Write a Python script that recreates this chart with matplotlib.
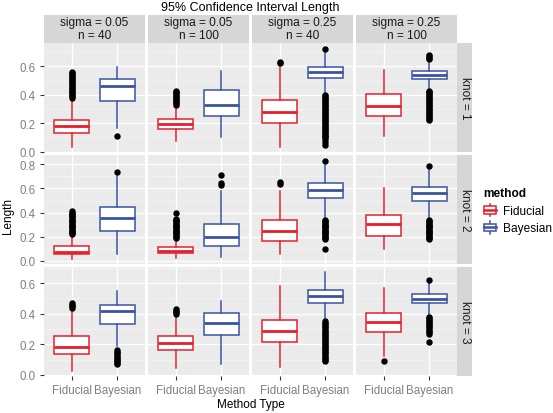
import matplotlib.pyplot as plt
from matplotlib.patches import Rectangle, Patch
from matplotlib.lines import Line2D
from matplotlib.legend_handler import HandlerBase

plt.rcParams['font.family'] = ['Liberation Sans', 'DejaVu Sans']

methods = ['Fiducial', 'Bayesian']
sigmas = ['0.05', '0.05', '0.25', '0.25']
ns = ['40', '100', '40', '100']
knots = [1, 2, 3]
colors = ['#E5202B', '#3A54A4']

# box statistics, indexed [knot][panel][method]
medians = [
    [[0.178, 0.462], [0.193, 0.328], [0.279, 0.558], [0.321, 0.541]],
    [[0.074, 0.353], [0.085, 0.201], [0.251, 0.590], [0.306, 0.565]],
    [[0.183, 0.415], [0.207, 0.341], [0.285, 0.517], [0.344, 0.498]],
]
q1s = [
    [[0.134, 0.358], [0.160, 0.253], [0.202, 0.518], [0.249, 0.509]],
    [[0.055, 0.248], [0.064, 0.121], [0.165, 0.521], [0.209, 0.499]],
    [[0.135, 0.333], [0.163, 0.261], [0.217, 0.472], [0.283, 0.468]],
]
q3s = [
    [[0.225, 0.513], [0.230, 0.431], [0.365, 0.598], [0.406, 0.569]],
    [[0.124, 0.444], [0.116, 0.306], [0.339, 0.645], [0.380, 0.612]],
    [[0.252, 0.457], [0.252, 0.402], [0.361, 0.554], [0.407, 0.528]],
]
whis_lo = [
    [[0.035, 0.170], [0.073, 0.101], [0.035, 0.410], [0.108, 0.436]],
    [[0.017, 0.058], [0.022, 0.030], [0.058, 0.347], [0.099, 0.347]],
    [[0.024, 0.191], [0.044, 0.072], [0.050, 0.361], [0.122, 0.385]],
]
whis_hi = [
    [[0.377, 0.598], [0.323, 0.567], [0.593, 0.700], [0.574, 0.640]],
    [[0.215, 0.706], [0.188, 0.582], [0.582, 0.794], [0.606, 0.761]],
    [[0.430, 0.548], [0.387, 0.485], [0.579, 0.670], [0.566, 0.600]],
]
outliers = [
    [
        [[0.38, 0.39, 0.40, 0.41, 0.42, 0.43, 0.44, 0.45, 0.46, 0.47, 0.48, 0.49, 0.50, 0.51, 0.52, 0.53, 0.54, 0.55, 0.56],
         [0.11]],
        [[0.33, 0.34, 0.35, 0.36, 0.37, 0.38, 0.39, 0.40, 0.41, 0.42, 0.43],
         []],
        [[0.62, 0.63],
         [0.72, 0.40, 0.39, 0.38, 0.37, 0.36, 0.35, 0.34, 0.33, 0.32, 0.31, 0.30, 0.29, 0.28, 0.27, 0.26, 0.25,
          0.24, 0.23, 0.22, 0.21, 0.20, 0.19, 0.18, 0.17, 0.16, 0.15, 0.14, 0.13, 0.12, 0.11, 0.10, 0.09, 0.07, 0.05]],
        [[],
         [0.65, 0.66, 0.67, 0.68, 0.43, 0.42, 0.41, 0.40, 0.39, 0.38, 0.37, 0.36, 0.35, 0.34, 0.33, 0.32, 0.31,
          0.30, 0.29, 0.28, 0.27, 0.26, 0.25, 0.24, 0.23, 0.22]],
    ],
    [
        [[0.22, 0.23, 0.24, 0.25, 0.26, 0.27, 0.28, 0.29, 0.30, 0.31, 0.32, 0.33, 0.34, 0.35, 0.36, 0.37, 0.38, 0.39, 0.40, 0.41],
         [0.74]],
        [[0.19, 0.20, 0.21, 0.22, 0.23, 0.24, 0.25, 0.26, 0.27, 0.28, 0.29, 0.30, 0.31, 0.32, 0.33, 0.34, 0.35, 0.40],
         [0.63, 0.645, 0.71]],
        [[0.64, 0.65],
         [0.83, 0.34, 0.33, 0.32, 0.31, 0.30, 0.29, 0.28, 0.27, 0.26, 0.25, 0.24, 0.23, 0.22, 0.21, 0.20, 0.19, 0.18, 0.10]],
        [[],
         [0.79, 0.34, 0.33, 0.32, 0.31, 0.30, 0.29, 0.28, 0.27, 0.26, 0.25, 0.24, 0.23, 0.22, 0.21, 0.20, 0.19, 0.18]],
    ],
    [
        [[0.44, 0.45, 0.46, 0.47],
         [0.16, 0.15, 0.14, 0.13, 0.12, 0.11, 0.10, 0.09, 0.08, 0.07]],
        [[0.40, 0.41, 0.42, 0.43],
         []],
        [[],
         [0.35, 0.34, 0.33, 0.32, 0.31, 0.30, 0.29, 0.28, 0.27, 0.26, 0.25, 0.24, 0.23, 0.22, 0.21, 0.20, 0.19,
          0.18, 0.17, 0.16, 0.15, 0.14, 0.13, 0.12, 0.11, 0.10, 0.093]],
        [[0.093],
         [0.62, 0.38, 0.37, 0.36, 0.35, 0.34, 0.33, 0.32, 0.31, 0.30, 0.29, 0.28, 0.27, 0.215]],
    ],
]

ylims = [(-0.002, 0.764), (-0.025, 0.877), (-0.007, 0.705)]
yticks = [[0, 0.2, 0.4, 0.6], [0, 0.2, 0.4, 0.6, 0.8], [0, 0.2, 0.4, 0.6]]
ytick_labels = [['0.0', '0.2', '0.4', '0.6'], ['0.0', '0.2', '0.4', '0.6', '0.8'], ['0.0', '0.2', '0.4', '0.6']]

panel_bg = '#EBEBEB'
strip_bg = '#D6D6D6'
grey_txt = '#7F7F7F'

W, H = 553, 414
left, top = 44, 44
pw, ph = 101, 109
gap = 3
strip_h = 28.3
strip_w = 15


def rect(x, y, w, h):
    return [x / W, 1 - (y + h) / H, w / W, h / H]


fig = plt.figure(figsize=(W / 100, H / 100), dpi=100)

for r in range(3):
    y = top + r * (ph + gap)
    for c in range(4):
        x = left + c * (pw + gap)
        ax = fig.add_axes(rect(x, y, pw, ph))
        ax.set_facecolor(panel_bg)
        for s in ax.spines.values():
            s.set_visible(False)
        ax.set_axisbelow(True)

        for m in range(2):
            st = [{'med': medians[r][c][m], 'q1': q1s[r][c][m], 'q3': q3s[r][c][m],
                   'whislo': whis_lo[r][c][m], 'whishi': whis_hi[r][c][m],
                   'fliers': outliers[r][c][m]}]
            col = colors[m]
            ax.bxp(st, positions=[m + 1], widths=0.75, showcaps=False, patch_artist=True,
                   boxprops=dict(facecolor='white', edgecolor=col, linewidth=1.1),
                   medianprops=dict(color=col, linewidth=2.0),
                   whiskerprops=dict(color=col, linewidth=1.1),
                   flierprops=dict(marker='o', markerfacecolor='black', markeredgecolor='black',
                                   markersize=3.6, linestyle='none'))

        ax.set_xlim(0.4, 2.6)
        ax.set_ylim(*ylims[r])
        ax.set_xticks([1, 2])
        ax.set_xticklabels(methods)
        ax.set_yticks(yticks[r])
        ax.set_yticklabels(ytick_labels[r])
        minors = [t + 0.1 for t in yticks[r] if t + 0.1 < ylims[r][1]]
        ax.set_yticks(minors, minor=True)
        ax.grid(which='major', color='white', linewidth=1.0)
        ax.grid(which='minor', axis='y', color='#F5F5F5', linewidth=0.5)
        ax.tick_params(which='minor', length=0)
        ax.tick_params(axis='both', which='major', length=3, width=0.8, color='#333333',
                       labelcolor=grey_txt, labelsize=8.3, pad=3)
        if c > 0:
            ax.tick_params(axis='y', which='major', length=0, labelleft=False)
        if r < 2:
            ax.tick_params(axis='x', which='major', length=0, labelbottom=False)

        if r == 0:
            sax = fig.add_axes(rect(x, top - strip_h, pw, strip_h))
            sax.set_facecolor(strip_bg)
            sax.set_xticks([])
            sax.set_yticks([])
            for s in sax.spines.values():
                s.set_visible(False)
            sax.text(0.5, 0.73, 'sigma = ' + sigmas[c], ha='center', va='center', fontsize=8.6,
                     color='#1A1A1A', transform=sax.transAxes)
            sax.text(0.5, 0.28, 'n = ' + ns[c], ha='center', va='center', fontsize=8.6,
                     color='#1A1A1A', transform=sax.transAxes)

    rax = fig.add_axes(rect(left + 4 * pw + 3 * gap, y, strip_w, ph))
    rax.set_facecolor(strip_bg)
    rax.set_xticks([])
    rax.set_yticks([])
    for s in rax.spines.values():
        s.set_visible(False)
    rax.text(0.5, 0.5, 'knot = %d' % knots[r], rotation=270, ha='center', va='center',
             fontsize=8.6, color='#1A1A1A', transform=rax.transAxes)

# titles and axis labels
fig.text(250.5 / W, 1 - 7.5 / H, '95% Confidence Interval Length', ha='center', va='center', fontsize=9)
fig.text(250.5 / W, 1 - 405 / H, 'Method Type', ha='center', va='center', fontsize=8.5)
fig.text(8 / W, 1 - 216 / H, 'Length', ha='center', va='center', rotation=90, fontsize=8.5)


class BoxKey(HandlerBase):
    def create_artists(self, legend, orig_handle, xdescent, ydescent, width, height, fontsize, trans):
        ec = orig_handle.get_edgecolor()
        x0, y0 = -xdescent, -ydescent
        cx = x0 + width / 2
        bw = width * 0.9
        b0, b1 = y0 + height * 0.2, y0 + height * 0.8
        box = Rectangle((cx - bw / 2, b0), bw, b1 - b0, facecolor='white', edgecolor=ec,
                        linewidth=1.1, transform=trans)
        med = Line2D([cx - bw / 2, cx + bw / 2], [y0 + height / 2] * 2, color=ec, linewidth=1.8, transform=trans)
        w1 = Line2D([cx, cx], [y0, b0], color=ec, linewidth=1.1, transform=trans)
        w2 = Line2D([cx, cx], [b1, y0 + height], color=ec, linewidth=1.1, transform=trans)
        return [w1, w2, box, med]


handles = [Patch(facecolor='white', edgecolor=colors[0]), Patch(facecolor='white', edgecolor=colors[1])]
fig.legend(handles=handles, labels=methods, title='method', handler_map={Patch: BoxKey()},
           loc='upper left', bbox_to_anchor=(481 / W, 1 - 186 / H), frameon=False,
           fontsize=8.6, title_fontproperties={'weight': 'bold', 'size': 8.6},
           alignment='left', handlelength=1.15, handleheight=1.25, labelspacing=0.35,
           handletextpad=0.5, borderaxespad=0, borderpad=0.2)

fig.savefig('out.png', dpi=100)
